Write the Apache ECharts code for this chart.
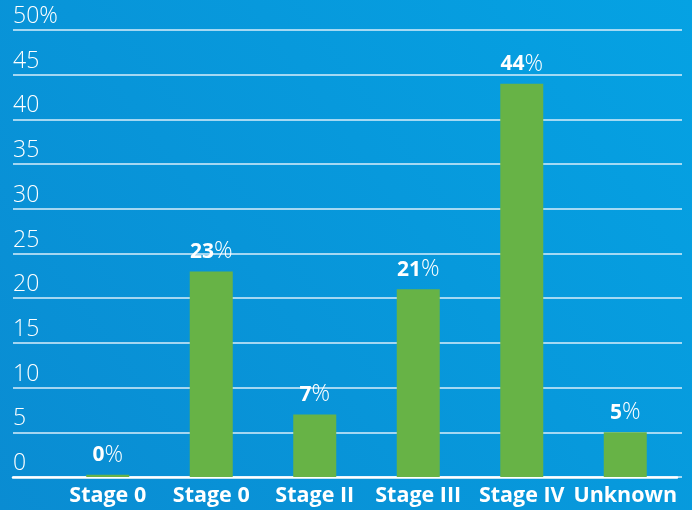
<!DOCTYPE html>
<html>
<head>
<meta charset="utf-8">
<script src="https://cdn.jsdelivr.net/npm/echarts@6/dist/echarts.min.js"></script>
<style>
html,body{margin:0;padding:0;background:#0796da;}
#c{width:692px;height:510px;}
</style>
</head>
<body>
<div id="c"></div>
<script>
var categories = ['Stage 0', 'Stage 0', 'Stage II', 'Stage III', 'Stage IV', 'Unknown'];
var values = [0.25, 23, 7, 21, 44, 5];
var labelTexts = ['0', '23', '7', '21', '44', '5'];
var yTicks = [0, 5, 10, 15, 20, 25, 30, 35, 40, 45, 50];

var chart = echarts.init(document.getElementById('c'), null, {renderer: 'canvas'});
var FONT = '"Open Sans", "Liberation Sans", sans-serif';
chart.setOption({
  backgroundColor: {
    type: 'linear', x: 0, y: 1, x2: 1, y2: 0,
    colorStops: [{offset: 0, color: '#0a8cd2'}, {offset: 1, color: '#05a2e3'}]
  },
  animation: false,
  grid: [
    {left: 56, right: 15, top: 30, bottom: 33},
    {left: 13, right: 10, top: 30, bottom: 33},
    {left: 13, right: 15, top: 30, bottom: 33}
  ],
  xAxis: [
    {
      type: 'category', gridIndex: 0, data: categories,
      axisLine: {show: false},
      axisTick: {show: false},
      axisLabel: {color: '#ffffff', fontFamily: FONT, fontWeight: 'bold', fontSize: 21.5, margin: 8, interval: 0}
    },
    {type: 'value', gridIndex: 1, show: false, min: 0, max: 1},
    {
      type: 'value', gridIndex: 2, min: 0, max: 1,
      axisLine: {show: true, lineStyle: {color: '#ffffff', width: 2.5}},
      axisTick: {show: false}, axisLabel: {show: false}, splitLine: {show: false}
    }
  ],
  yAxis: [
    {type: 'value', gridIndex: 0, min: 0, max: 50, interval: 5, show: false, splitLine: {show: false}},
    {
      type: 'value', gridIndex: 1, min: 0, max: 50, interval: 5,
      axisLine: {show: false}, axisTick: {show: false},
      splitLine: {show: true, lineStyle: {color: 'rgba(228,242,252,0.95)', width: 1.6}},
      axisLabel: {
        inside: true, color: '#ffffff', fontFamily: FONT, fontWeight: 300, fontSize: 23,
        verticalAlign: 'bottom', align: 'left', margin: 0, padding: [0, 0, 2, 0],
        formatter: function (v) { return yTicks.indexOf(v) >= 0 ? (v === 50 ? '50%' : String(v)) : ''; }
      }
    },
    {type: 'value', gridIndex: 2, min: 0, max: 50, show: false, splitLine: {show: false}}
  ],
  series: [
    {
      type: 'bar', xAxisIndex: 0, yAxisIndex: 0, data: values, barWidth: 43, z: 5,
      itemStyle: {color: '#67b346'},
      label: {
        show: true, position: 'top', distance: 8,
        formatter: function (p) { return '{b|' + labelTexts[p.dataIndex] + '}{p|%}'; },
        rich: {
          b: {color: '#ffffff', fontFamily: FONT, fontWeight: 'bold', fontSize: 21},
          p: {color: '#ffffff', fontFamily: FONT, fontWeight: 300, fontSize: 23}
        }
      }
    }
  ]
});
</script>
</body>
</html>
